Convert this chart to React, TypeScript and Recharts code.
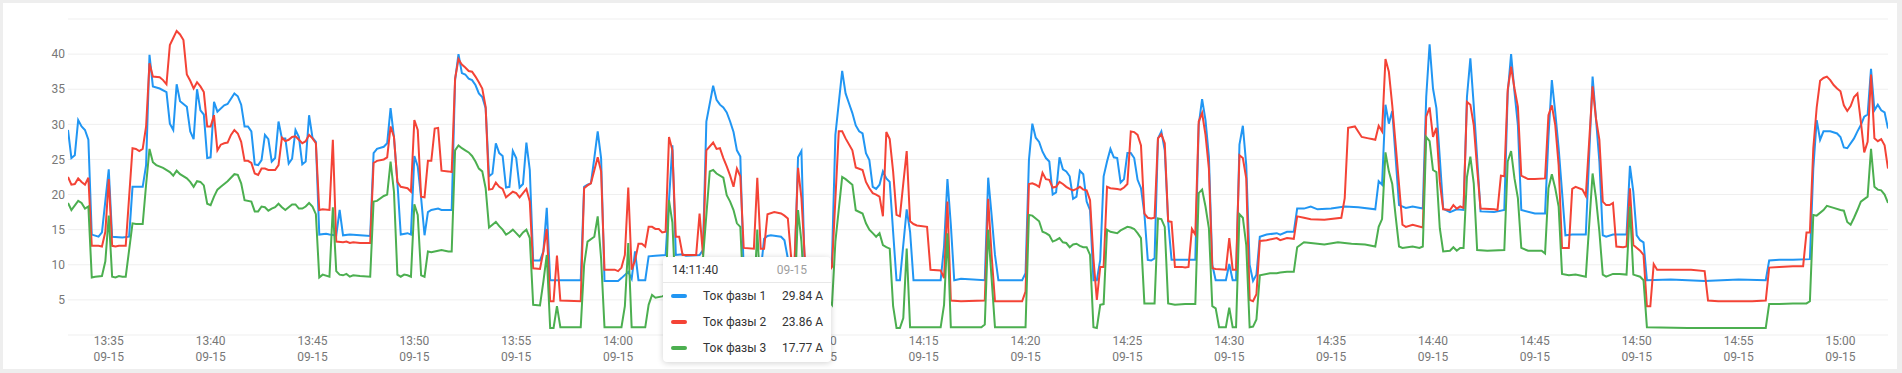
import React from 'react';
import { LineChart, Line, XAxis, YAxis, CartesianGrid, Tooltip } from 'recharts';

// Times are seconds after 13:00:00 on 09-15, values in amperes
const BASE_HOUR = 13;
const DATE_LABEL = '09-15';
const UNIT = 'A';
const SERIES_NAMES = ['Ток фазы 1', 'Ток фазы 2', 'Ток фазы 3'];
const SERIES_KEYS = ['p1', 'p2', 'p3'];
const SERIES_COLORS = ['#2196f3', '#f44336', '#4caf50'];
const X_TICK_LABELS = ['13:35', '13:40', '13:45', '13:50', '13:55', '14:00', '14:05', '14:10', '14:15', '14:20', '14:25', '14:30', '14:35', '14:40', '14:45', '14:50', '14:55', '15:00'];
const Y_TICKS = [5, 10, 15, 20, 25, 30, 35, 40];
const Y_DOMAIN: [number, number] = [0, 45];
const X_DOMAIN: [number, number] = [1980, 7340];
const TOOLTIP_TIME = 4300;

const phase1: [number, number][] = [[1980,29.2],[1990,25.2],[2000,25.6],[2010,30.6],[2020,29.7],[2030,29.2],[2040,27.8],[2050,14.3],[2070,14.0],[2080,14.6],[2100,23.6],[2110,14.0],[2140,13.9],[2160,14.0],[2170,21.1],[2200,21.1],[2210,24.2],[2220,39.9],[2230,35.4],[2250,35.1],[2270,34.6],[2280,30.1],[2290,29.2],[2300,35.7],[2310,33.3],[2330,32.5],[2340,29.0],[2350,27.9],[2360,35.0],[2370,32.0],[2380,31.4],[2390,25.2],[2400,25.3],[2410,33.2],[2420,31.8],[2440,32.7],[2450,32.9],[2470,34.4],[2480,34.0],[2490,32.8],[2500,29.7],[2510,29.7],[2520,29.0],[2530,24.3],[2540,24.2],[2550,24.9],[2560,28.5],[2570,27.9],[2580,24.7],[2590,25.2],[2600,30.4],[2610,28.0],[2620,28.0],[2630,24.4],[2640,25.1],[2650,29.2],[2660,28.2],[2670,24.3],[2680,24.7],[2690,31.3],[2700,28.1],[2710,27.5],[2720,14.3],[2740,14.4],[2750,14.3],[2770,14.2],[2780,17.8],[2790,14.2],[2810,14.3],[2840,14.2],[2870,14.1],[2880,25.9],[2890,26.5],[2910,26.8],[2920,27.3],[2930,32.3],[2940,28.2],[2950,21.8],[2960,14.3],[2980,14.5],[2990,14.3],[3000,25.5],[3010,24.0],[3020,19.5],[3030,14.2],[3040,17.5],[3050,17.8],[3070,18.0],[3080,17.8],[3110,17.8],[3120,36.3],[3130,40.0],[3140,37.3],[3150,37.1],[3160,36.5],[3170,36.3],[3180,35.6],[3190,34.4],[3200,33.9],[3210,32.3],[3220,22.6],[3230,23.0],[3240,27.3],[3250,25.9],[3260,25.5],[3270,21.0],[3280,21.1],[3290,26.2],[3300,25.2],[3310,21.0],[3320,21.5],[3330,27.4],[3340,23.5],[3350,10.6],[3370,10.6],[3380,11.9],[3390,18.1],[3400,7.8],[3490,7.8],[3500,21.1],[3510,21.4],[3520,21.6],[3530,25.2],[3540,29.0],[3550,25.2],[3560,7.7],[3600,7.7],[3610,8.1],[3630,9.0],[3640,8.0],[3650,11.9],[3660,7.8],[3680,7.8],[3690,11.2],[3710,11.3],[3740,11.4],[3760,27.0],[3770,11.4],[3790,11.5],[3800,11.3],[3840,11.4],[3850,12.1],[3860,30.4],[3880,35.5],[3890,33.5],[3900,32.8],[3910,32.4],[3920,31.7],[3930,30.4],[3940,28.9],[3950,26.3],[3960,25.4],[3970,9.0],[4020,9.0],[4030,13.7],[4040,14.1],[4050,14.2],[4080,14.0],[4090,13.5],[4100,10.9],[4110,9.0],[4120,9.5],[4130,25.3],[4140,26.2],[4150,9.0],[4220,9.0],[4230,10.9],[4240,28.5],[4260,37.6],[4270,34.4],[4280,33.0],[4290,31.6],[4300,29.84],[4310,29.0],[4320,28.7],[4330,25.9],[4340,24.9],[4350,21.1],[4360,20.8],[4370,21.4],[4380,23.3],[4390,22.3],[4400,21.8],[4410,14.7],[4420,7.8],[4430,7.8],[4450,17.9],[4460,14.7],[4470,7.8],[4550,7.8],[4560,12.6],[4570,22.2],[4580,15.7],[4590,7.8],[4610,8.0],[4680,7.8],[4690,22.4],[4700,17.1],[4710,11.4],[4720,7.8],[4790,7.8],[4800,8.8],[4810,24.9],[4820,30.1],[4830,28.1],[4840,27.5],[4850,26.1],[4860,25.2],[4870,24.7],[4880,20.0],[4890,20.3],[4900,25.3],[4910,23.6],[4920,23.3],[4930,22.6],[4940,19.4],[4950,19.7],[4960,23.4],[4970,22.9],[4980,19.0],[4990,17.8],[5000,7.8],[5010,7.8],[5020,10.7],[5030,22.6],[5040,24.7],[5050,26.5],[5060,25.3],[5070,25.2],[5080,21.7],[5090,22.2],[5100,25.9],[5110,25.9],[5120,25.2],[5130,22.1],[5140,20.9],[5150,17.3],[5160,10.7],[5170,10.6],[5180,10.9],[5190,28.0],[5200,29.0],[5210,26.3],[5220,16.2],[5230,10.7],[5300,10.7],[5310,29.9],[5320,33.6],[5330,30.6],[5340,25.4],[5350,10.0],[5360,7.8],[5390,7.8],[5400,10.1],[5410,7.8],[5420,7.8],[5430,27.1],[5440,29.8],[5450,24.2],[5460,10.0],[5470,7.7],[5480,8.6],[5490,14.0],[5510,14.3],[5540,14.5],[5550,14.3],[5570,14.7],[5590,14.7],[5600,18.0],[5620,18.0],[5640,18.3],[5660,17.9],[5700,18.0],[5740,18.3],[5780,18.2],[5830,17.9],[5840,21.9],[5850,21.4],[5860,32.8],[5870,30.1],[5880,31.9],[5890,25.2],[5900,18.5],[5920,18.1],[5940,18.3],[5970,18.0],[5980,33.9],[5990,41.4],[6000,35.1],[6010,32.3],[6020,25.2],[6030,18.0],[6050,17.5],[6070,17.9],[6090,17.8],[6100,33.9],[6110,39.4],[6120,32.7],[6130,25.2],[6140,17.6],[6180,17.5],[6210,17.8],[6220,34.4],[6230,40.0],[6240,34.6],[6250,29.9],[6260,17.8],[6300,17.3],[6330,17.3],[6340,28.2],[6350,36.3],[6360,31.7],[6370,26.6],[6390,14.2],[6410,14.3],[6450,14.3],[6470,36.8],[6480,30.8],[6490,24.7],[6500,14.2],[6510,14.0],[6530,14.3],[6570,14.3],[6580,24.1],[6590,20.4],[6600,14.2],[6610,13.5],[6620,13.2],[6630,7.8],[6700,7.9],[6800,7.7],[6900,7.9],[6980,7.8],[6990,10.6],[7020,10.7],[7060,10.7],[7110,10.8],[7120,23.7],[7130,30.6],[7140,27.8],[7150,29.0],[7170,29.0],[7190,28.7],[7200,28.2],[7210,26.7],[7220,26.6],[7240,28.0],[7250,29.0],[7260,29.9],[7270,31.1],[7280,31.4],[7290,37.9],[7300,32.0],[7310,32.8],[7320,32.0],[7330,31.7],[7340,29.4]];

const phase2: [number, number][] = [[1980,22.5],[1990,21.4],[2000,21.5],[2010,22.3],[2020,21.8],[2030,21.4],[2040,22.4],[2050,12.7],[2070,12.7],[2080,12.6],[2090,14.7],[2100,22.2],[2110,12.7],[2120,12.6],[2130,12.7],[2150,12.7],[2170,26.6],[2180,26.5],[2190,26.2],[2200,26.5],[2210,29.7],[2220,38.7],[2230,36.8],[2250,36.7],[2260,36.3],[2270,35.7],[2280,41.3],[2290,42.3],[2300,43.3],[2310,42.8],[2320,42.0],[2330,37.1],[2340,36.2],[2350,35.1],[2360,36.0],[2370,35.4],[2380,34.6],[2390,29.7],[2400,29.7],[2410,31.3],[2420,26.3],[2430,27.1],[2440,27.3],[2450,27.4],[2460,28.5],[2470,29.2],[2480,28.7],[2490,27.5],[2500,24.8],[2510,24.8],[2520,24.5],[2530,23.0],[2540,22.8],[2550,23.7],[2560,23.7],[2570,23.5],[2590,23.5],[2600,24.2],[2610,28.1],[2620,27.6],[2630,27.8],[2640,28.2],[2650,28.3],[2660,27.8],[2670,27.3],[2680,27.6],[2690,28.5],[2700,28.0],[2710,27.3],[2720,17.8],[2730,17.9],[2750,17.8],[2760,27.8],[2770,13.3],[2790,13.2],[2800,13.3],[2810,13.1],[2820,13.2],[2840,13.1],[2870,13.1],[2880,24.5],[2890,24.8],[2910,25.0],[2920,25.3],[2930,29.7],[2940,28.2],[2950,21.8],[2960,21.1],[2970,21.0],[2980,20.9],[2990,20.4],[3000,30.6],[3010,29.2],[3020,19.7],[3030,19.6],[3040,24.8],[3050,24.8],[3060,29.4],[3070,29.5],[3080,23.4],[3100,23.3],[3110,23.2],[3120,36.5],[3130,39.3],[3140,38.5],[3150,38.1],[3160,37.6],[3170,37.5],[3180,36.8],[3190,36.0],[3200,35.1],[3210,32.5],[3220,20.7],[3230,20.8],[3240,21.7],[3250,21.1],[3260,20.8],[3270,19.6],[3280,20.0],[3290,20.4],[3300,20.2],[3310,19.6],[3320,20.2],[3330,20.8],[3340,19.0],[3350,9.5],[3370,9.4],[3380,11.9],[3390,15.1],[3400,4.8],[3410,4.8],[3420,11.3],[3430,4.9],[3490,4.8],[3500,20.9],[3510,21.3],[3520,21.6],[3540,25.3],[3550,23.3],[3560,9.3],[3590,9.3],[3600,9.1],[3610,9.6],[3620,11.4],[3630,21.0],[3640,9.3],[3650,10.6],[3660,13.0],[3670,13.0],[3680,12.6],[3690,15.4],[3700,15.4],[3710,15.1],[3720,15.1],[3730,14.6],[3740,14.7],[3750,28.2],[3760,26.3],[3770,14.0],[3780,14.0],[3790,11.4],[3830,11.4],[3840,17.3],[3850,11.4],[3860,26.3],[3880,27.4],[3890,26.5],[3900,26.6],[3910,25.2],[3920,24.0],[3930,22.7],[3940,21.1],[3950,23.7],[3960,22.6],[3970,12.4],[4000,12.3],[4010,22.4],[4020,12.3],[4030,12.3],[4040,17.2],[4060,17.5],[4080,17.3],[4090,17.0],[4100,16.6],[4110,10.9],[4120,10.9],[4130,23.8],[4140,19.5],[4150,10.9],[4160,9.0],[4220,9.0],[4230,9.7],[4250,29.0],[4260,29.0],[4270,28.0],[4290,26.3],[4300,23.86],[4320,23.5],[4330,21.8],[4340,20.9],[4350,20.2],[4360,20.0],[4370,19.7],[4380,16.9],[4390,28.9],[4400,27.9],[4410,23.3],[4420,17.1],[4430,16.9],[4440,21.6],[4450,26.2],[4460,16.2],[4470,15.8],[4480,15.6],[4510,15.4],[4520,9.3],[4550,9.2],[4560,8.1],[4570,19.0],[4580,4.9],[4610,4.8],[4680,4.9],[4690,19.4],[4700,11.4],[4710,4.8],[4790,4.8],[4800,6.2],[4810,21.5],[4820,21.6],[4830,21.4],[4840,21.1],[4850,23.1],[4860,22.2],[4870,22.1],[4880,21.0],[4890,21.1],[4900,21.8],[4910,21.5],[4920,21.1],[4930,20.8],[4940,20.6],[4950,20.8],[4960,21.1],[4970,20.7],[4980,20.6],[4990,19.2],[5000,10.9],[5010,5.0],[5020,9.7],[5030,9.7],[5040,21.1],[5050,20.9],[5070,20.8],[5080,20.7],[5090,21.0],[5100,21.5],[5110,29.0],[5120,28.9],[5130,28.5],[5140,27.0],[5150,17.3],[5160,16.7],[5170,16.6],[5180,16.7],[5190,28.0],[5200,28.6],[5210,27.3],[5220,16.2],[5230,16.1],[5240,9.7],[5260,9.7],[5270,9.6],[5280,9.7],[5290,15.1],[5300,14.3],[5310,30.4],[5320,31.6],[5330,28.5],[5340,23.7],[5350,9.5],[5360,9.4],[5390,9.3],[5400,13.8],[5410,9.3],[5420,9.3],[5430,25.6],[5440,25.2],[5450,22.3],[5460,5.0],[5470,4.8],[5480,5.8],[5490,13.4],[5510,13.5],[5540,13.8],[5550,13.5],[5570,13.8],[5590,13.7],[5600,16.9],[5620,16.7],[5640,16.5],[5680,16.4],[5730,16.7],[5740,19.5],[5750,29.5],[5770,29.7],[5790,28.2],[5810,28.0],[5820,27.9],[5830,27.8],[5840,29.8],[5850,29.0],[5860,39.3],[5870,37.5],[5880,32.7],[5890,27.1],[5900,21.4],[5910,15.7],[5920,15.4],[5940,15.7],[5970,15.3],[5980,31.1],[5990,32.4],[6000,28.2],[6010,29.5],[6020,21.8],[6030,17.9],[6050,17.8],[6060,18.5],[6070,18.0],[6080,18.3],[6090,18.1],[6100,33.2],[6110,32.8],[6120,29.9],[6130,23.7],[6140,18.0],[6180,17.9],[6190,17.8],[6200,22.7],[6210,22.6],[6220,34.9],[6230,38.2],[6240,35.1],[6250,32.5],[6260,22.7],[6280,22.2],[6300,22.2],[6330,22.3],[6340,31.3],[6350,32.7],[6360,29.9],[6370,24.2],[6380,12.4],[6400,12.4],[6410,20.8],[6420,21.1],[6440,20.7],[6450,19.8],[6470,35.4],[6480,30.8],[6490,27.8],[6500,19.0],[6510,18.5],[6520,18.5],[6530,18.8],[6540,12.6],[6560,12.5],[6570,12.6],[6580,20.9],[6590,12.8],[6610,12.0],[6620,11.4],[6630,4.1],[6640,4.1],[6650,10.1],[6660,9.3],[6710,9.3],[6760,9.3],[6800,9.1],[6810,4.9],[6840,4.8],[6890,4.8],[6940,4.8],[6980,4.9],[6990,9.6],[7020,9.7],[7060,9.8],[7090,9.8],[7100,14.6],[7110,14.6],[7120,26.6],[7130,32.4],[7140,36.2],[7150,36.6],[7160,36.8],[7170,36.3],[7180,35.6],[7190,35.1],[7200,34.7],[7210,32.7],[7220,31.9],[7230,32.6],[7240,33.9],[7250,34.4],[7260,30.4],[7270,26.0],[7280,27.5],[7290,37.1],[7300,28.0],[7310,27.6],[7320,27.9],[7330,27.0],[7340,23.7]];

const phase3: [number, number][] = [[1980,18.8],[1990,17.8],[2010,19.1],[2020,18.8],[2030,18.0],[2040,18.3],[2050,8.2],[2060,8.3],[2080,8.4],[2090,10.5],[2100,17.0],[2110,8.3],[2120,8.2],[2130,8.4],[2140,8.3],[2150,8.3],[2170,15.9],[2180,15.8],[2200,15.8],[2210,21.4],[2220,26.5],[2230,24.6],[2240,24.2],[2260,23.8],[2280,23.2],[2290,22.7],[2300,23.4],[2310,22.9],[2330,22.3],[2340,21.8],[2350,21.1],[2360,21.9],[2370,21.8],[2380,21.3],[2390,18.7],[2400,18.5],[2410,19.7],[2420,20.7],[2430,21.1],[2450,21.9],[2470,22.9],[2480,22.8],[2490,21.6],[2500,19.2],[2520,19.0],[2530,17.6],[2540,17.6],[2550,18.3],[2560,18.2],[2570,17.7],[2580,18.0],[2590,18.2],[2600,18.7],[2610,18.2],[2620,17.8],[2630,18.2],[2640,18.6],[2650,18.6],[2660,18.0],[2670,18.0],[2680,18.3],[2690,18.8],[2700,18.3],[2710,17.2],[2720,8.2],[2730,8.6],[2750,8.3],[2760,18.2],[2770,9.1],[2780,8.6],[2790,8.5],[2800,8.7],[2810,8.3],[2820,8.5],[2840,8.4],[2870,8.3],[2880,19.0],[2890,19.1],[2910,19.8],[2920,20.0],[2930,24.7],[2940,20.4],[2950,8.6],[2960,8.3],[2970,8.6],[2980,8.5],[2990,8.3],[3000,18.6],[3010,17.1],[3020,8.5],[3030,8.3],[3040,11.9],[3050,11.8],[3070,12.0],[3080,12.1],[3100,11.9],[3110,11.9],[3120,26.3],[3130,27.0],[3140,26.6],[3150,26.3],[3160,26.0],[3170,25.5],[3180,24.7],[3190,23.7],[3200,23.3],[3210,20.9],[3220,15.3],[3230,15.7],[3240,16.1],[3250,15.5],[3260,15.0],[3270,14.3],[3280,14.6],[3290,15.0],[3300,14.5],[3310,14.0],[3320,14.6],[3330,15.0],[3340,13.8],[3350,4.3],[3370,4.2],[3380,7.6],[3390,11.4],[3400,1.0],[3410,1.0],[3420,4.1],[3430,1.1],[3490,1.1],[3500,10.0],[3510,13.3],[3530,14.0],[3540,16.9],[3550,10.9],[3560,1.1],[3610,1.1],[3620,4.1],[3630,13.1],[3640,1.1],[3680,1.1],[3690,4.3],[3700,5.7],[3710,5.3],[3730,5.5],[3740,5.7],[3750,19.2],[3760,16.0],[3770,5.0],[3840,5.0],[3850,10.9],[3870,23.3],[3880,23.5],[3890,23.0],[3910,22.4],[3920,19.9],[3930,19.0],[3940,17.8],[3950,15.9],[3960,15.4],[3970,5.0],[4000,5.0],[4010,15.0],[4020,5.0],[4030,8.0],[4100,8.0],[4110,5.0],[4120,5.0],[4130,17.8],[4140,13.3],[4150,5.0],[4220,5.0],[4230,4.3],[4240,13.3],[4260,22.5],[4270,22.2],[4290,21.4],[4300,17.77],[4320,17.3],[4330,15.9],[4340,15.0],[4350,14.5],[4360,14.0],[4370,14.5],[4380,12.8],[4390,12.5],[4400,12.3],[4410,4.1],[4420,1.0],[4430,1.0],[4440,2.4],[4450,12.3],[4460,1.1],[4550,1.1],[4560,4.3],[4570,14.5],[4580,1.1],[4670,1.1],[4680,1.5],[4690,15.0],[4700,8.1],[4710,1.1],[4800,1.1],[4810,17.1],[4820,17.0],[4830,16.6],[4840,16.2],[4850,14.7],[4860,14.5],[4870,14.2],[4880,13.3],[4890,13.5],[4900,13.8],[4910,13.2],[4920,13.1],[4930,12.5],[4940,12.9],[4950,13.0],[4960,12.7],[4970,12.5],[4980,12.5],[4990,11.4],[5000,1.1],[5010,1.0],[5020,4.3],[5030,4.4],[5040,15.0],[5050,14.7],[5070,14.5],[5080,14.9],[5100,15.4],[5110,15.3],[5120,15.1],[5130,14.5],[5140,13.8],[5150,4.5],[5180,4.5],[5190,16.6],[5200,16.5],[5210,15.4],[5220,4.5],[5240,4.3],[5270,4.4],[5300,4.4],[5310,20.2],[5320,20.7],[5330,18.3],[5340,15.2],[5350,4.1],[5360,3.8],[5370,1.1],[5390,1.1],[5400,3.9],[5410,1.1],[5420,1.1],[5430,17.2],[5440,16.7],[5450,12.8],[5460,1.1],[5470,1.2],[5480,2.2],[5490,8.5],[5520,8.8],[5540,8.8],[5550,8.9],[5570,9.0],[5590,9.0],[5600,12.5],[5620,13.2],[5640,13.1],[5680,12.9],[5720,13.2],[5760,13.0],[5800,12.9],[5830,12.6],[5840,15.4],[5850,16.5],[5860,26.0],[5870,23.3],[5880,21.5],[5890,16.9],[5900,12.6],[5910,12.4],[5940,12.6],[5960,12.4],[5970,12.6],[5980,28.2],[5990,27.6],[6000,23.5],[6010,23.2],[6020,15.2],[6030,11.9],[6050,12.0],[6060,12.5],[6070,12.0],[6080,12.4],[6090,12.4],[6100,22.5],[6110,25.4],[6120,21.6],[6130,12.1],[6160,12.0],[6210,12.1],[6220,24.7],[6230,26.2],[6240,22.3],[6250,19.5],[6260,12.4],[6280,12.0],[6320,12.0],[6330,11.6],[6340,20.9],[6350,22.9],[6360,20.9],[6370,18.3],[6380,8.7],[6400,8.5],[6420,8.6],[6450,8.3],[6470,23.0],[6480,19.5],[6490,14.7],[6500,8.6],[6510,8.3],[6530,8.7],[6550,8.7],[6570,8.6],[6580,18.3],[6590,8.6],[6610,8.3],[6620,7.8],[6630,1.1],[6750,1.0],[6860,1.0],[6980,1.0],[6990,4.4],[7020,4.4],[7060,4.5],[7100,4.5],[7110,4.8],[7120,17.1],[7130,17.0],[7150,17.8],[7160,18.4],[7180,18.1],[7200,17.8],[7210,17.7],[7220,16.1],[7230,15.7],[7240,16.7],[7250,17.8],[7260,19.0],[7280,19.7],[7290,26.5],[7300,21.1],[7310,20.7],[7320,20.6],[7330,20.0],[7340,18.8]];

type Row = { t: number; p1?: number; p2?: number; p3?: number };

function buildRows(): Row[] {
  const map = new Map<number, Row>();
  const all: [number, number][][] = [phase1, phase2, phase3];
  all.forEach((series, i) => {
    series.forEach(([t, v]) => {
      const r = map.get(t) || { t };
      (r as any)[SERIES_KEYS[i]] = v;
      map.set(t, r);
    });
  });
  return Array.from(map.values()).sort((a, b) => a.t - b.t);
}

const rows = buildRows();
const tooltipIndex = rows.findIndex((r) => r.t === TOOLTIP_TIME);

const labelToSec = (s: string) => {
  const [h, m] = s.split(':').map(Number);
  return (h - BASE_HOUR) * 3600 + m * 60;
};
const X_TICKS = X_TICK_LABELS.map(labelToSec);

const pad = (n: number) => String(n).padStart(2, '0');
const fmtTime = (t: number) => {
  const h = BASE_HOUR + Math.floor(t / 3600);
  const m = Math.floor((t % 3600) / 60);
  const s = Math.round(t % 60);
  return `${pad(h)}:${pad(m)}:${pad(s)}`;
};

const FONT = 'Roboto, "Noto Sans", sans-serif';
const AXIS_COLOR = '#777777';

const XTick = (props: any) => {
  const { x, y, payload } = props;
  const idx = X_TICKS.indexOf(payload.value);
  const label = idx >= 0 ? X_TICK_LABELS[idx] : '';
  return (
    <g>
      <text x={x} y={y + 10} textAnchor="middle" fill={AXIS_COLOR} fontSize={12} fontFamily={FONT}>{label}</text>
      <text x={x} y={y + 26} textAnchor="middle" fill={AXIS_COLOR} fontSize={12} fontFamily={FONT}>{DATE_LABEL}</text>
    </g>
  );
};

const TipContent = (props: any) => {
  const { payload, label } = props;
  if (!payload || !payload.length) return null;
  return (
    <div style={{ width: 168, height: 105, boxSizing: 'border-box', background: '#fff', borderRadius: 4, boxShadow: '0 1px 6px rgba(0,0,0,0.18)', fontFamily: FONT, fontSize: 12, color: '#333', position: 'relative' }}>
      <div style={{ height: 26, borderBottom: '1px solid #e8e8e8', display: 'flex', alignItems: 'center', justifyContent: 'space-between', padding: '0 24px 0 9px', boxSizing: 'border-box' }}>
        <span style={{ fontWeight: 400, color: '#333' }}>{fmtTime(Number(label))}</span>
        <span style={{ color: '#9e9e9e' }}>{DATE_LABEL}</span>
      </div>
      {payload.map((p: any, i: number) => (
        <div key={i} style={{ height: 26, display: 'flex', alignItems: 'center', position: 'relative', boxSizing: 'border-box' }}>
          <span style={{ position: 'absolute', left: 8, top: 11, width: 16, height: 4, borderRadius: 2, background: p.color }} />
          <span style={{ position: 'absolute', left: 40, color: '#333' }}>{p.name}</span>
          <span style={{ position: 'absolute', right: 8, color: '#333' }}>{Number(p.value).toFixed(2)} {UNIT}</span>
        </div>
      ))}
    </div>
  );
};

export default function App() {
  return (
    <div style={{ position: 'fixed', left: 0, top: 0, width: 1902, height: 373, background: '#eeeeee', overflow: 'hidden' }}>
      <div style={{ position: 'absolute', left: 3, top: 3, width: 1894, height: 366, background: '#ffffff' }} />
      <div style={{ position: 'absolute', left: 0, top: 0 }}>
        <LineChart width={1902} height={373} data={rows} margin={{ top: 19, right: 14, bottom: 0, left: 0 }}>
          <CartesianGrid vertical={false} stroke="#efefef" />
          <XAxis
            dataKey="t"
            type="number"
            domain={X_DOMAIN}
            ticks={X_TICKS}
            interval={0}
            height={38}
            axisLine={false}
            tickLine={false}
            tickSize={0}
            tickMargin={0}
            tick={<XTick />}
            allowDataOverflow
          />
          <YAxis
            domain={Y_DOMAIN}
            ticks={Y_TICKS}
            interval={0}
            width={68}
            axisLine={false}
            tickLine={false}
            tickSize={0}
            tickMargin={3}
            tick={{ fill: AXIS_COLOR, fontSize: 12, fontFamily: FONT }}
            allowDataOverflow
          />
          {SERIES_KEYS.map((k, i) => (
            <Line
              key={k}
              type="linear"
              dataKey={k}
              name={SERIES_NAMES[i]}
              stroke={SERIES_COLORS[i]}
              strokeWidth={2}
              dot={false}
              activeDot={false}
              connectNulls
              isAnimationActive={false}
            />
          ))}
          <Tooltip
            active
            defaultIndex={tooltipIndex}
            cursor={false}
            position={{ x: 663, y: 257 }}
            content={<TipContent />}
            isAnimationActive={false}
            wrapperStyle={{ outline: 'none', zIndex: 10 }}
          />
        </LineChart>
      </div>
    </div>
  );
}
